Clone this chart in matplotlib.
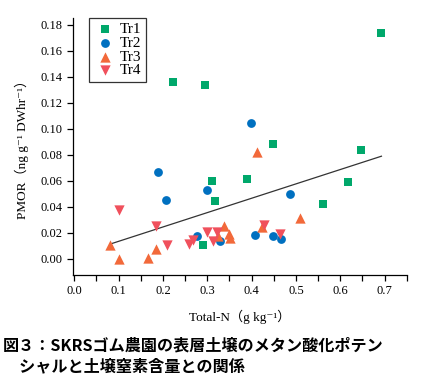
import numpy as np
import matplotlib
matplotlib.use("Agg")
import matplotlib.pyplot as plt

plt.rcParams['font.family'] = ['Liberation Serif', 'Noto Sans CJK JP', 'DejaVu Serif']

# Tr1 .. Tr4 : Total-N (g/kg) vs PMOR
tr1_x = [0.223, 0.294, 0.310, 0.318, 0.390, 0.449, 0.291, 0.561, 0.618, 0.647, 0.693]
tr1_y = [0.1356, 0.1339, 0.0600, 0.0447, 0.0613, 0.0884, 0.0110, 0.0419, 0.0592, 0.0833, 0.1732]

tr2_x = [0.189, 0.207, 0.299, 0.276, 0.328, 0.398, 0.407, 0.448, 0.466, 0.486]
tr2_y = [0.0664, 0.0450, 0.0529, 0.0174, 0.0136, 0.1042, 0.0186, 0.0180, 0.0156, 0.0498]

tr3_x = [0.0815, 0.101, 0.167, 0.184, 0.325, 0.337, 0.350, 0.352, 0.413, 0.423, 0.510]
tr3_y = [0.0107, 0.0000, 0.0005, 0.0074, 0.0176, 0.0253, 0.0189, 0.0163, 0.0820, 0.0248, 0.0314]

tr4_x = [0.100, 0.184, 0.210, 0.259, 0.268, 0.299, 0.322, 0.313, 0.427, 0.465]
tr4_y = [0.0373, 0.0255, 0.0107, 0.0115, 0.0146, 0.0210, 0.0210, 0.0138, 0.0260, 0.0194]

# regression line ends
trend_x = [0.0815, 0.693]
trend_y = [0.0115, 0.0789]

fig = plt.figure(figsize=(4.27, 3.82), dpi=100)
ax = fig.add_axes([72.7/427, 1-275/382, (406.7-72.7)/427, (275-18)/382])

ax.plot(trend_x, trend_y, color='#333333', lw=0.9, zorder=1)
ax.scatter(tr1_x, tr1_y, marker='s', s=34, color='#00A86B', lw=0, label='Tr1', zorder=3)
ax.scatter(tr2_x, tr2_y, marker='o', s=40, color='#0070C0', lw=0, label='Tr2', zorder=3)
ax.scatter(tr3_x, tr3_y, marker='^', s=55, color='#F2693A', lw=0, label='Tr3', zorder=3)
ax.scatter(tr4_x, tr4_y, marker='v', s=55, color='#F0505C', lw=0, label='Tr4', zorder=3)

ax.set_xlim(-0.0035, 0.75)
ax.set_ylim(-0.0123, 0.185)
ax.set_xticks(np.arange(0, 0.71, 0.1))
ax.set_xticks(np.arange(0.05, 0.76, 0.1), minor=True)
ax.set_yticks(np.arange(0, 0.181, 0.02))
ax.set_xticklabels(['%.1f' % v for v in np.arange(0, 0.71, 0.1)])
ax.set_yticklabels(['%.2f' % v for v in np.arange(0, 0.181, 0.02)])
ax.tick_params(labelsize=9, length=4, width=0.9, direction='out')
ax.tick_params(which='minor', length=4, width=0.9)
for s in ['top', 'right']:
    ax.spines[s].set_visible(False)
for s in ['left', 'bottom']:
    ax.spines[s].set_linewidth(0.9)

ax.set_xlabel('Total-N（g kg⁻¹）', fontsize=9.5, labelpad=9)
ax.set_ylabel('PMOR（ng g⁻¹ DWhr⁻¹）', fontsize=9.5, labelpad=8)

leg = ax.legend(loc='upper left', bbox_to_anchor=(0.05, 1.0), fontsize=11,
                frameon=True, fancybox=False, edgecolor='black', handletextpad=0.2,
                borderpad=0.3, labelspacing=0.0, handlelength=1.5, borderaxespad=0)
leg.get_frame().set_linewidth(0.9)

cap = dict(fontsize=11.6, fontweight='bold', family=['Noto Sans CJK JP', 'DejaVu Sans'])
fig.text(3/427, 1-346/382, '図３：SKRSゴム農園の表層土壌のメタン酸化ポテン', va='center', **cap)
fig.text(3/427, 1-366/382, '　シャルと土壌窒素含量との関係', va='center', **cap)

fig.savefig('out.png', dpi=100)
